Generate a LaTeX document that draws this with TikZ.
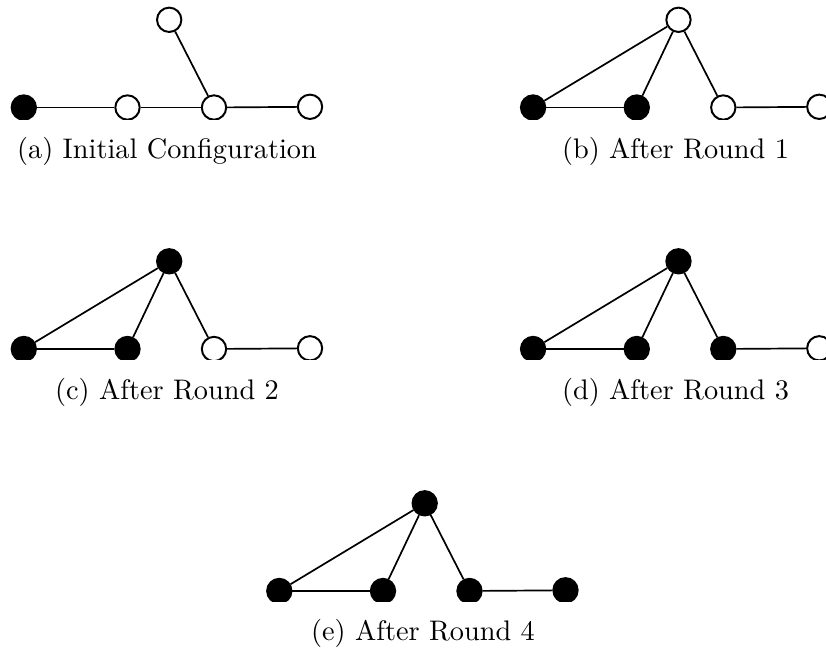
\documentclass[tikz,border=0pt]{standalone}
\tikzset{
  vtx/.style={circle, draw=black, line width=0.7pt, minimum size=8.6pt, inner sep=0pt},
  blk/.style={vtx, fill=black},
  wht/.style={vtx, fill=white},
  edg/.style={line width=0.6pt, black},
  captext/.style={anchor=base, font=\fontsize{10}{12}\selectfont, inner sep=0pt}
}
\begin{document}
\begin{tikzpicture}[x=0.3533pt, y=-0.3533pt]
\useasboundingbox (0,0) rectangle (826,652);
\clip (0,0) rectangle (826,652);

% (a)
\begin{scope}
  \clip (0,0) rectangle (335,120);
  \node[blk] (aA) at (23.8,107.5) {};
  \node[wht] (aB) at (127.5,107.5) {};
  \node[wht] (aC) at (214,107.5) {};
  \node[wht] (aD) at (310,106.8) {};
  \node[wht] (aT) at (169.2,19.8) {};
  \draw[edg] (aA) -- (aB);
  \draw[edg] (aB) -- (aC);
  \draw[edg] (aC) -- (aD);
  \draw[edg] (aT) -- (aC);
\end{scope}
\node[captext] (capa) at (167,159) {(a) Initial Configuration};

% (b)
\begin{scope}[shift={(509.3,0)}]
  \clip (0,0) rectangle (335,120);
  \node[blk] (bA) at (23.8,107.5) {};
  \node[blk] (bB) at (127.5,107.5) {};
  \node[wht] (bC) at (214,107.5) {};
  \node[wht] (bD) at (310,106.8) {};
  \node[wht] (bT) at (169.2,19.8) {};
  \draw[edg] (bA) -- (bB);
  \draw[edg] (bA) -- (bT);
  \draw[edg] (bB) -- (bT);
  \draw[edg] (bT) -- (bC);
  \draw[edg] (bC) -- (bD);
\end{scope}
\node[captext] (capb) at (675.5,159) {(b) After Round 1};

% (c)
\begin{scope}[shift={(0,241.5)}]
  \clip (0,0) rectangle (335,118.5);
  \node[blk] (cA) at (23.8,107.5) {};
  \node[blk] (cB) at (127.5,107.5) {};
  \node[wht] (cC) at (214,107.5) {};
  \node[wht] (cD) at (310,106.8) {};
  \node[blk] (cT) at (169.2,19.8) {};
  \draw[edg] (cA) -- (cB);
  \draw[edg] (cA) -- (cT);
  \draw[edg] (cB) -- (cT);
  \draw[edg] (cT) -- (cC);
  \draw[edg] (cC) -- (cD);
\end{scope}
\node[captext] (capc) at (167,400) {(c) After Round 2};

% (d)
\begin{scope}[shift={(509.3,241.5)}]
  \clip (0,0) rectangle (335,118.5);
  \node[blk] (dA) at (23.8,107.5) {};
  \node[blk] (dB) at (127.5,107.5) {};
  \node[blk] (dC) at (214,107.5) {};
  \node[wht] (dD) at (310,106.8) {};
  \node[blk] (dT) at (169.2,19.8) {};
  \draw[edg] (dA) -- (dB);
  \draw[edg] (dA) -- (dT);
  \draw[edg] (dB) -- (dT);
  \draw[edg] (dT) -- (dC);
  \draw[edg] (dC) -- (dD);
\end{scope}
\node[captext] (capd) at (675.5,400) {(d) After Round 3};

% (e)
\begin{scope}[shift={(255.5,483.5)}]
  \clip (0,0) rectangle (335,118.5);
  \node[blk] (eA) at (23.8,107.5) {};
  \node[blk] (eB) at (127.5,107.5) {};
  \node[blk] (eC) at (214,107.5) {};
  \node[blk] (eD) at (310,106.8) {};
  \node[blk] (eT) at (169.2,19.8) {};
  \draw[edg] (eA) -- (eB);
  \draw[edg] (eA) -- (eT);
  \draw[edg] (eB) -- (eT);
  \draw[edg] (eT) -- (eC);
  \draw[edg] (eC) -- (eD);
\end{scope}
\node[captext] (cape) at (423,641) {(e) After Round 4};
\end{tikzpicture}
\end{document}
